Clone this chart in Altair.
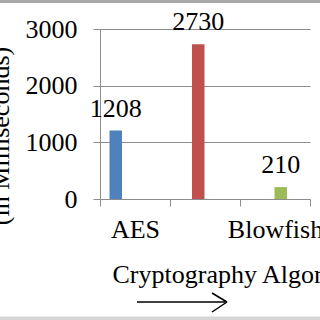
import altair as alt
import pandas as pd

algorithms = ["AES", "DES", "Blowfish"]
times_ms = [1208, 2730, 210]
bar_colors = ["#4F81BD", "#C0504D", "#9BBB59"]
y_ticks = [0, 1000, 2000, 3000]

df = pd.DataFrame({"algorithm": algorithms, "time": times_ms})
FONT = "Liberation Serif"
GRID = "#8c8c8c"

x_enc = alt.X("algorithm:N", sort=algorithms,
              scale=alt.Scale(domain=algorithms, range=[0, 210], paddingInner=0, paddingOuter=0),
              axis=alt.Axis(title="Cryptography Algorithms", tickBand="extent", domain=False, grid=False,
                            ticks=True, tickSize=7, tickColor=GRID, labelAngle=0,
                            labelExpr="datum.label == 'DES' ? '' : datum.label",
                            labelPadding=10,
                            titleAnchor="start", titleAlign="left", titleBaseline="alphabetic",
                            titleX=12, titleY=83))
xoff_enc = alt.XOffset("algorithm:N", sort=algorithms,
                       scale=alt.Scale(domain=algorithms, paddingInner=0, paddingOuter=0, range=[9.5, 47]))
y_enc = alt.Y("time:Q", scale=alt.Scale(domain=[0, 3000], nice=False),
              axis=alt.Axis(title=None, values=y_ticks, grid=True, gridColor=GRID, domainColor=GRID,
                            tickColor=GRID, tickSize=7, labelPadding=16, format="d"))

bars = alt.Chart(df).mark_bar().encode(
    x=x_enc, xOffset=xoff_enc, y=y_enc,
    color=alt.Color("algorithm:N", scale=alt.Scale(domain=algorithms, range=bar_colors), legend=None),
)
labels = alt.Chart(df).mark_text(font=FONT, fontSize=26, baseline="alphabetic", dy=-14, color="black").encode(
    x=alt.X("algorithm:N", sort=algorithms), xOffset=alt.XOffset("algorithm:N", sort=algorithms),
    y="time:Q", text="time:Q",
)

deco = alt.Data(values=[{"t": "(in Milliseconds)"}])
ytitle = alt.Chart(deco).mark_text(font=FONT, fontSize=26, angle=270, align="center", baseline="alphabetic",
                                   color="black").encode(
    x=alt.value(-91), y=alt.value(107), text="t:N")

top_border = alt.Chart(deco).mark_rule(color="#a8a8a8", strokeWidth=3).encode(
    x=alt.value(-100), x2=alt.value(220), y=alt.value(-27.5))
bottom_border = alt.Chart(deco).mark_rule(color="#d6d6d6", strokeWidth=4).encode(
    x=alt.value(-100), x2=alt.value(220), y=alt.value(289.5))
shaft = alt.Chart(deco).mark_rule(color="black", strokeWidth=1.5).encode(
    x=alt.value(37), x2=alt.value(127), y=alt.value(273))
head1 = alt.Chart(deco).mark_rule(color="black", strokeWidth=1.5).encode(
    x=alt.value(112), x2=alt.value(127), y=alt.value(264), y2=alt.value(273))
head2 = alt.Chart(deco).mark_rule(color="black", strokeWidth=1.5).encode(
    x=alt.value(112), x2=alt.value(127), y=alt.value(283), y2=alt.value(273))

chart = alt.layer(bars, labels, ytitle, top_border, bottom_border, shaft, head1, head2).resolve_scale(
    x="shared", y="shared"
).properties(
    width=220, height=170,
    padding={"left": 100, "top": 29, "right": 0, "bottom": 121},
    autosize=alt.AutoSizeParams(type="none"),
    background="white",
).configure_view(stroke=None).configure_axis(
    labelFont=FONT, labelFontSize=26, labelColor="black",
    titleFont=FONT, titleFontSize=26, titleFontWeight="normal", titleColor="black",
)

chart.save("out.html", embed_options={"renderer": "svg", "actions": False})
